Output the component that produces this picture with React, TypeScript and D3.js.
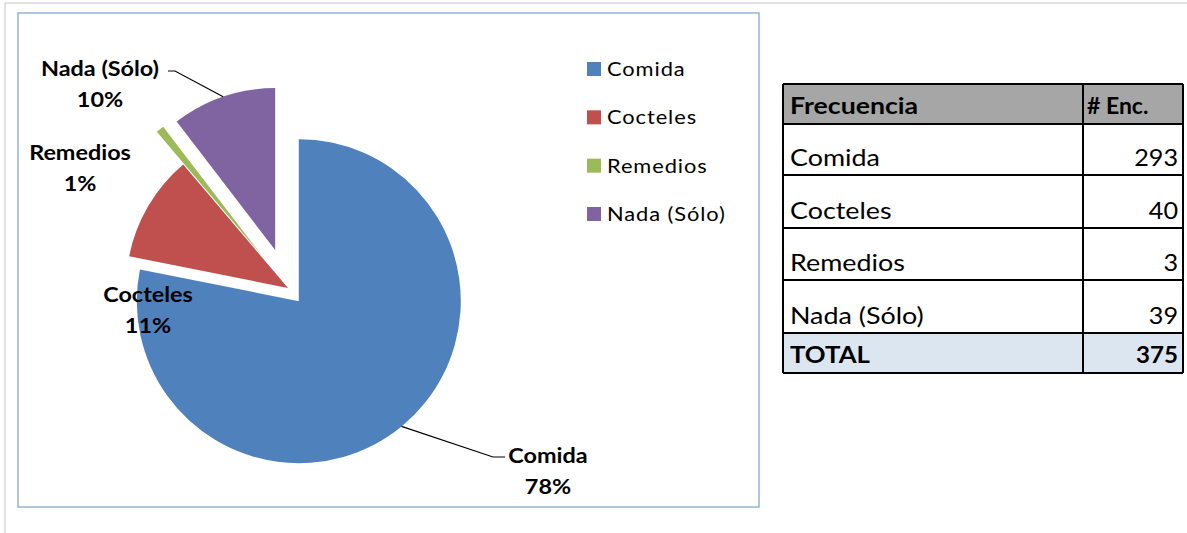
import React from "react";
import * as d3 from "d3";

const categories = ["Comida", "Cocteles", "Remedios", "Nada (Sólo)"];
const counts = [293, 40, 3, 39];
const percentLabels = ["78%", "11%", "1%", "10%"];
const colors = ["#4F81BD", "#C0504D", "#9BBB59", "#8064A2"];
const tableHeader = ["Frecuencia", "# Enc."];
const totalLabel = "TOTAL";

// styling / layout
const explode = [17, 0, 42, 40];
const labelPos: [number, number][] = [
  [548, 463],
  [148, 302],
  [80, 160],
  [100, 76],
];
const leaderElbow: ([number, number] | null)[] = [[493, 457], null, null, [175, 71]];
const leaderEnd: ([number, number] | null)[] = [[505, 457], null, null, [168, 71]];

const W = 1187;
const H = 533;
const cx = 288;
const cy = 288;
const R = 162;

function T(props: {
  x: number;
  y: number;
  sx: number;
  anchor?: string;
  size: number;
  bold?: boolean;
  ls?: number;
  children: React.ReactNode;
}) {
  return (
    <text
      transform={`translate(${props.x},${props.y}) scale(${props.sx},1)`}
      textAnchor={props.anchor || "start"}
      fontSize={props.size}
      fontWeight={props.bold ? "bold" : "normal"}
      letterSpacing={props.ls || 0}
      fill="#000"
    >
      {props.children}
    </text>
  );
}

export default function App() {
  const pie = d3.pie<number>().sort(null).value((d) => d)(counts);
  const arc = d3.arc<d3.PieArcDatum<number>>().innerRadius(0).outerRadius(R);
  const total = d3.sum(counts);

  const rowsY = [84, 124, 175, 228, 280, 333, 373];
  const tx0 = 783, tx1 = 1083, tx2 = 1183;

  const legendY = d3.scalePoint<string>().domain(categories).range([69, 214]);

  return (
    <div style={{ position: "absolute", left: 0, top: 0 }}>
      <svg width={W} height={H} style={{ display: "block", fontFamily: "Lato, sans-serif" }}>
        <rect x={0} y={0} width={W} height={H} fill="#fff" />
        <line x1={5} y1={3} x2={W} y2={3} stroke="#d9d9d9" strokeWidth={1.5} />
        <line x1={5} y1={3} x2={5} y2={H} stroke="#d9d9d9" strokeWidth={1.5} />
        <rect x={18} y={13} width={741} height={494} fill="#fff" stroke="#95B3D7" strokeWidth={1.5} />
        {pie.map((p, i) => {
          const mid = (p.startAngle + p.endAngle) / 2;
          const ox = cx + explode[i] * Math.sin(mid);
          const oy = cy - explode[i] * Math.cos(mid);
          return (
            <path key={i} d={arc(p) || ""} transform={`translate(${ox},${oy})`} fill={colors[i]} />
          );
        })}
        {pie.map((p, i) => {
          if (!leaderElbow[i]) return null;
          const mid = (p.startAngle + p.endAngle) / 2;
          const ox = cx + explode[i] * Math.sin(mid);
          const oy = cy - explode[i] * Math.cos(mid);
          const sx = ox + R * Math.sin(mid);
          const sy = oy - R * Math.cos(mid);
          const e = leaderElbow[i]!;
          const f = leaderEnd[i]!;
          return (
            <polyline
              key={"l" + i}
              points={`${sx},${sy} ${e[0]},${e[1]} ${f[0]},${f[1]}`}
              fill="none"
              stroke="#000"
              strokeWidth={1.2}
            />
          );
        })}
        {categories.map((c, i) => (
          <g key={"t" + i}>
            <T x={labelPos[i][0]} y={labelPos[i][1]} sx={1.17} anchor="middle" size={20} bold>{c}</T>
            <T x={labelPos[i][0]} y={labelPos[i][1] + 31} sx={1.17} anchor="middle" size={20} bold>
              {percentLabels[i]}
            </T>
          </g>
        ))}
        {categories.map((c, i) => (
          <g key={"lg" + i}>
            <rect x={587} y={legendY(c)! - 7} width={14} height={14} fill={colors[i]} />
            <T x={607} y={legendY(c)! + 7} sx={1.15} size={19} ls={0.8}>{c}</T>
          </g>
        ))}
        {/* table */}
        <rect x={tx0} y={rowsY[0]} width={tx2 - tx0} height={rowsY[1] - rowsY[0]} fill="#A6A6A6" />
        <rect x={tx0} y={rowsY[5]} width={tx2 - tx0} height={rowsY[6] - rowsY[5]} fill="#DCE6F1" />
        {rowsY.map((y, i) => (
          <line key={"h" + i} x1={tx0} x2={tx2} y1={y} y2={y} stroke="#000" strokeWidth={2} />
        ))}
        {[tx0, tx1, tx2].map((x, i) => (
          <line key={"v" + i} x1={x} x2={x} y1={rowsY[0]} y2={rowsY[6]} stroke="#000" strokeWidth={2} />
        ))}
        <T x={790} y={114} sx={1.16} size={23} bold>{tableHeader[0]}</T>
        <T x={1087} y={114} sx={1.0} size={23} bold>{tableHeader[1]}</T>
        {categories.map((c, i) => (
          <g key={"r" + i}>
            <T x={790} y={rowsY[i + 2] - 9} sx={1.12} size={24}>{c}</T>
            <T x={1178} y={rowsY[i + 2] - 9} sx={1.05} size={24} anchor="end">{counts[i]}</T>
          </g>
        ))}
        <T x={790} y={rowsY[6] - 10} sx={1.12} size={23} bold>{totalLabel}</T>
        <T x={1178} y={rowsY[6] - 10} sx={1.05} size={23} bold anchor="end">{total}</T>
      </svg>
    </div>
  );
}
